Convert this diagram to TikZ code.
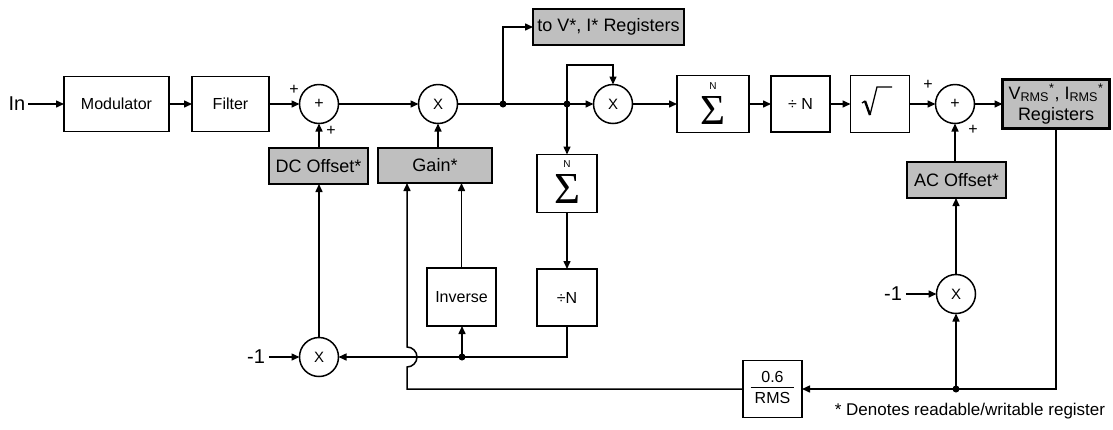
\documentclass[tikz,border=0pt]{standalone}
\usepackage{fontspec}
\setmainfont{Liberation Sans}
\newfontfamily\serifsym{Liberation Serif}
\usepackage{graphicx}
\usetikzlibrary{arrows.meta}
\begin{document}
\begin{tikzpicture}[x=1pt,y=-1pt,
  every node/.style={font=\fontsize{16}{19}\selectfont, inner sep=0pt, outer sep=0pt},
  wbox/.style={draw, line width=1.5pt, fill=white},
  gbox/.style={draw, line width=2.9pt, fill=gray!50, font=\fontsize{18}{21}\selectfont},
  circ/.style={draw, circle, line width=1.5pt, minimum size=39pt},
  bigtxt/.style={font=\fontsize{20}{24}\selectfont},
  smalltxt/.style={font=\fontsize{10}{10}\selectfont},
  ln/.style={line width=1.5pt},
  arr/.style={line width=1.5pt, -{Triangle[length=8pt,width=7pt]}},
  jdot/.style={fill=black},
]
\useasboundingbox (0,0) rectangle (1113,429);

% ---- nodes: main path
\node[bigtxt] (in) at (17,104) {In};
\node[wbox, minimum width=105pt, minimum height=55pt] (mod) at (116.5,104) {Modulator};
\node[wbox, minimum width=77pt, minimum height=55pt] (fil) at (230.5,104) {Filter};
\node[circ] (s1) at (319,104) {+};
\node (p1) at (294,90) {+};
\node (p2) at (331,131) {+};
\node[gbox, minimum width=99pt, minimum height=36pt] (dc) at (318.5,166) {DC Offset*};
\node[gbox, minimum width=114pt, minimum height=35pt] (gain) at (435,165.5) {Gain*};
\node[circ, font=\fontsize{15}{18}\selectfont] (m1) at (438,104) {X};
\coordinate (j1) at (503,104);
\node[gbox, minimum width=151pt, minimum height=36pt] (tov) at (608.5,27) {to V*, I* Registers};
\coordinate (j2) at (567,104);
\coordinate (fb) at (567,65);
\node[circ, font=\fontsize{15}{18}\selectfont] (m2) at (613,104) {X};
\node[wbox, minimum width=72pt, minimum height=57pt] (sg1) at (713,104) {};
\node[smalltxt] (sg1n) at ([yshift=-11pt]sg1.north) {N};
\node (sg1s) at ([yshift=-35pt]sg1.north) {\resizebox*{25pt}{28pt}{\serifsym Σ}};
\node[wbox, minimum width=59pt, minimum height=56pt] (dn1) at (800.5,104) {÷ N};
\node[wbox, minimum width=59pt, minimum height=57pt] (sq) at (880,104) {};
\node[circ] (s2) at (955,104) {+};
\node (p3) at (928,85) {+};
\node (p4) at (973,130) {+};
\node[gbox, minimum width=107pt, minimum height=49pt, align=center] (vr) at (1056,104)
  {V\textsubscript{RMS}\textsuperscript{*}, I\textsubscript{RMS}\textsuperscript{*}\\Registers};
\node[gbox, minimum width=99pt, minimum height=36pt] (ac) at (956.5,180) {AC Offset*};

% ---- lower part
\node[circ, font=\fontsize{15}{18}\selectfont] (m4) at (956,294) {X};
\node[bigtxt] (n1b) at (893,294) {-1};
\coordinate (j4) at (956,389);
\node[wbox, minimum width=59pt, minimum height=57pt] (rms) at (772.5,389)
  {\setlength{\arrayrulewidth}{1.2pt}\begin{tabular}{@{\hspace{4pt}}c@{\hspace{4pt}}}0.6\\[-1pt]\hline\rule{0pt}{15pt}RMS\end{tabular}};
\node[wbox, minimum width=60pt, minimum height=58pt] (sg2) at (567,183.5) {};
\node[smalltxt] (sg2n) at ([yshift=-10pt]sg2.north) {N};
\node (sg2s) at ([yshift=-34pt]sg2.north) {\resizebox*{26pt}{29pt}{\serifsym Σ}};
\node[wbox, minimum width=60pt, minimum height=57pt] (dn2) at (567,297.5) {÷N};
\node[wbox, minimum width=69pt, minimum height=58pt] (inv) at (461.5,297) {Inverse};
\node[circ, font=\fontsize{15}{18}\selectfont] (m3) at (319,357) {X};
\node[bigtxt] (n1a) at (256,357) {-1};
\coordinate (j3) at (462,357);
\coordinate (jmp) at (407,357);
\coordinate (gx) at (407,389);
\node[font=\fontsize{17}{20}\selectfont] (note) at (970,411) {* Denotes readable/writable register};

% ---- square-root symbol inside its box
\draw[line width=1.3pt] ([shift={(-18,-1)}]sq.center) -- ([shift={(-15,-3)}]sq.center);
\draw[line width=2.4pt] ([shift={(-15,-3)}]sq.center) -- ([shift={(-10,11)}]sq.center);
\draw[line width=1.3pt, line join=miter] ([shift={(-10,11)}]sq.center) -- ([shift={(-3,-17)}]sq.center) -- ([shift={(12,-17)}]sq.center);

% ---- connectors: main path
\draw[arr, shorten <=3pt] (in.east) -- (mod.west);
\draw[arr] (mod.east) -- (fil.west);
\draw[arr] (fil.east) -- (s1.west);
\draw[arr] (s1.east) -- (m1.west);
\draw[ln] (m1.east) -- (j1) -- (j2);
\draw[arr] (j2) -- (m2.west);
\draw[arr] (j1) |- (tov.west);
\draw[arr] (j2) -- (fb) -| (m2.north);
\draw[arr] (m2.east) -- (sg1.west);
\draw[arr] (sg1.east) -- (dn1.west);
\draw[arr] (dn1.east) -- (sq.west);
\draw[arr] (sq.east) -- (s2.west);
\draw[arr] (s2.east) -- (vr.west);
\draw[arr] (s1.south |- dc.north) -- (s1.south);
\draw[arr] (m1.south |- gain.north) -- (m1.south);
\draw[arr] (s2.south |- ac.north) -- (s2.south);

% ---- connectors: lower part
\draw[arr] (j2) -- (j2 |- sg2.north);
\draw[arr] (sg2.south) -- (dn2.north);
\draw[arr] (dn2.south) |- (m3.east);
\draw[arr] (j3) -- (j3 |- inv.south);
\draw[arr] (inv.north) -- (inv.north |- gain.south);
\draw[arr] (m3.north) -- (m3.north |- dc.south);
\draw[arr, shorten <=4pt] (n1a.east) -- (m3.west);
\draw[arr] (vr.south) |- (rms.east);
\draw[arr] (j4) -- (m4.south);
\draw[arr] (m4.north) -- (m4.north |- ac.south);
\draw[arr, shorten <=4pt] (n1b.east) -- (m4.west);
\draw[arr] (rms.west) -- (gx) -- ([yshift=-10pt]jmp) arc[start angle=-90, end angle=90, radius=10pt] -- (gx |- gain.south);

% ---- junction dots
\fill[jdot] (j1) circle (3.5pt);
\fill[jdot] (j2) circle (3.5pt);
\fill[jdot] (j3) circle (3.5pt);
\fill[jdot] (j4) circle (3.5pt);
\end{tikzpicture}
\end{document}
